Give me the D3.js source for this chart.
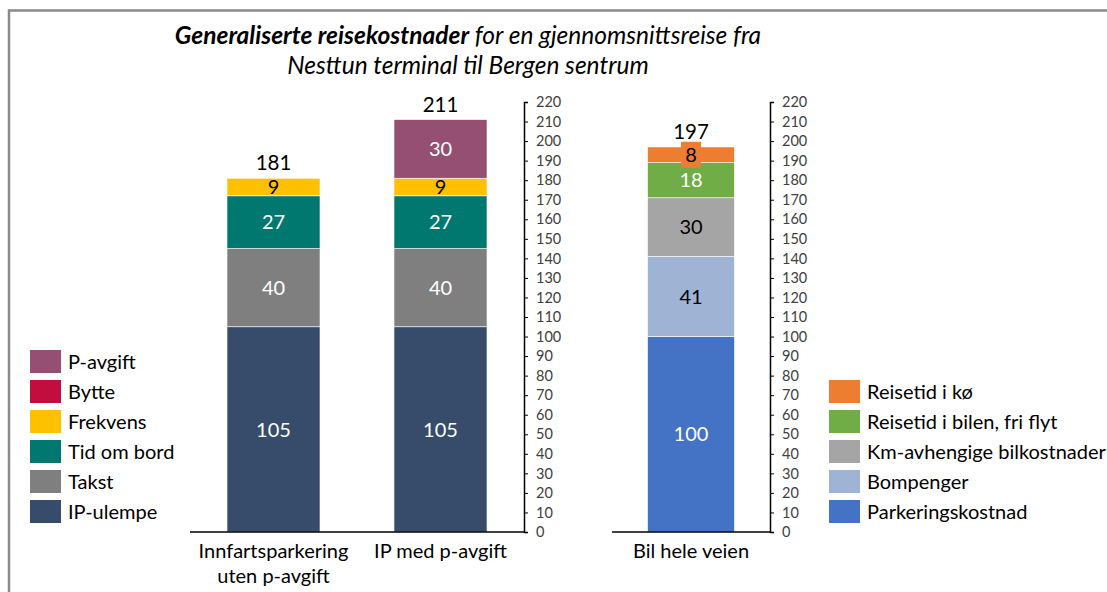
<!DOCTYPE html>
<html><head><meta charset="utf-8">
<script src="https://cdn.jsdelivr.net/npm/d3@7"></script>
<style>body{margin:0;background:#fff;} text{font-family:Lato,"Open Sans",sans-serif;}</style>
</head><body>
<svg id="c" width="1107" height="592"></svg>
<script>
// ---- data ----
const leftCategories = [["Innfartsparkering","uten p-avgift"],["IP med p-avgift"]];
const leftSeries = ["IP-ulempe","Takst","Tid om bord","Frekvens","Bytte","P-avgift"];
const leftColors = ["#374C6B","#7F7F7F","#00786F","#FFC000","#C20E3F","#954F72"];
const leftValues = [[105,105],[40,40],[27,27],[9,9],[0,0],[0,30]];
const leftTextColors = ["#fff","#fff","#fff","#000","#fff","#fff"];
const leftTotals = [181,211];

const rightCategories = [["Bil hele veien"]];
const rightSeries = ["Parkeringskostnad","Bompenger","Km-avhengige bilkostnader","Reisetid i bilen, fri flyt","Reisetid i kø"];
const rightColors = ["#4472C4","#9FB3D5","#A5A5A5","#70AD47","#ED7D31"];
const rightValues = [[100],[41],[30],[18],[8]];
const rightTextColors = ["#fff","#000","#000","#fff","#000"];
const rightTotals = [197];

const yTicks = d3.range(0,221,10);

// ---- drawing ----
const svg = d3.select("#c");
// frame
svg.append("path").attr("d","M9,592 V10.5 H1107").attr("fill","none").attr("stroke","#8a8a8a").attr("stroke-width",2.5);

// title
const t = svg.append("text").attr("x",468).attr("y",44).attr("text-anchor","middle").attr("font-size",24.5).attr("font-style","italic").attr("fill","#000");
t.append("tspan").attr("font-weight","bold").text("Generaliserte  reisekostnader");
t.append("tspan").text(" for en gjennomsnittsreise fra");
svg.append("text").attr("x",468).attr("y",74).attr("text-anchor","middle").attr("font-size",24.5).attr("font-style","italic").text("Nesttun terminal til Bergen sentrum");

const y = d3.scaleLinear().domain([0,220]).range([532,102]);

function panel(cats, series, colors, values, textColors, totals, x0, x1, pad){
  const x = d3.scaleBand().domain(cats.map((c,i)=>i)).range([x0,x1]).paddingInner(pad).paddingOuter(pad/2);
  const g = svg.append("g");
  cats.forEach((c,ci)=>{
    let acc = 0;
    series.forEach((s,si)=>{
      const v = values[si][ci];
      if(!v){return;}
      const y0 = y(acc), y1 = y(acc+v);
      g.append("rect").attr("x",x(ci)).attr("width",x.bandwidth()).attr("y",y1).attr("height",y0-y1)
        .attr("fill",colors[si]).attr("stroke","#fff").attr("stroke-width",0.6);
      const cy = (y0+y1)/2;
      if(v<10 && colors[si]==="#ED7D31"){
        g.append("rect").attr("x",x(ci)+x.bandwidth()/2-10).attr("y",cy-13).attr("width",20).attr("height",26).attr("fill",colors[si]);
      }
      g.append("text").attr("x",x(ci)+x.bandwidth()/2).attr("y",cy).attr("dy","0.36em").attr("text-anchor","middle")
        .attr("font-size",20).attr("fill",textColors[si]).text(v);
      acc += v;
    });
    g.append("text").attr("x",x(ci)+x.bandwidth()/2).attr("y",y(totals[ci])-8).attr("text-anchor","middle")
      .attr("font-size",20.5).attr("fill","#000").text(totals[ci]);
    c.forEach((line,li)=>{
      g.append("text").attr("x",x(ci)+x.bandwidth()/2).attr("y",558+li*25).attr("text-anchor","middle")
        .attr("font-size",20).attr("fill","#000").text(line);
    });
  });
  // baseline
  g.append("line").attr("x1",x0).attr("x2",x1).attr("y1",y(0)).attr("y2",y(0)).attr("stroke","#000").attr("stroke-width",1.5);
  // axis on right side, ticks pointing right
  const ax = svg.append("g").attr("transform",`translate(${x1},0)`)
    .call(d3.axisRight(y).tickValues(yTicks).tickSize(4).tickPadding(8).tickSizeOuter(4));
  ax.select(".domain").attr("stroke","#000").attr("stroke-width",1.5);
  ax.selectAll(".tick line").attr("stroke","#000");
  ax.selectAll(".tick text").attr("font-size",14.5).attr("fill","#404040").attr("font-family","Lato,'Open Sans',sans-serif");
}
panel(leftCategories,leftSeries,leftColors,leftValues,leftTextColors,leftTotals,190,524,0.443);
panel(rightCategories,rightSeries,rightColors,rightValues,rightTextColors,rightTotals,612,770,0.45);

function legend(series, colors, x, yTop){
  const items = series.map((s,i)=>({s,c:colors[i]})).reverse();
  items.forEach((d,i)=>{
    svg.append("rect").attr("x",x).attr("y",yTop+i*30).attr("width",31).attr("height",23).attr("fill",d.c);
    svg.append("text").attr("x",x+38).attr("y",yTop+i*30+11.5).attr("dy","0.36em").attr("font-size",20).attr("fill","#000").text(d.s);
  });
}
legend(leftSeries,leftColors,30,350);
legend(rightSeries,rightColors,829,380);
</script>
</body></html>
